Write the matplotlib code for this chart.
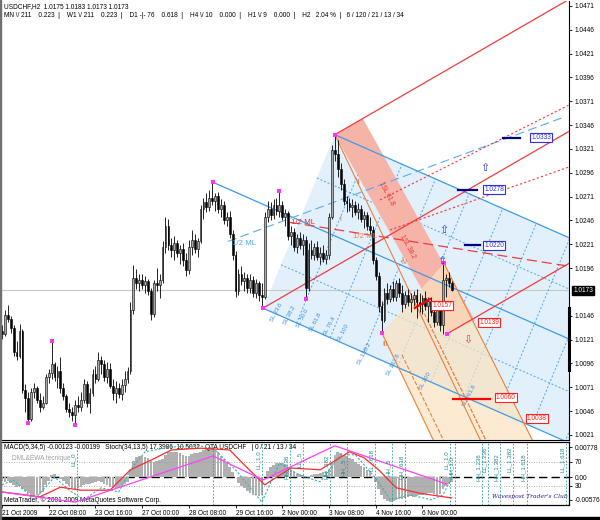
import numpy as np
import matplotlib.pyplot as plt
from matplotlib.patches import Polygon, Rectangle

plt.rcParams['font.family'] = ['Liberation Sans', 'DejaVu Sans']

# ---- USDCHF H2 candles, bar 0 = 21 Oct 2009 00:00 ----
opens = [1.0130, 1.0127, 1.0147, 1.0143, 1.0133, 1.0108, 1.0104, 1.0130, 1.0068, 1.0060,
         1.0038, 1.0066, 1.0070, 1.0058, 1.0050, 1.0055, 1.0082, 1.0086, 1.0095, 1.0082,
         1.0088, 1.0070, 1.0062, 1.0048, 1.0045, 1.0042, 1.0052, 1.0050, 1.0058, 1.0074,
         1.0055, 1.0065, 1.0085, 1.0080, 1.0100, 1.0095, 1.0082, 1.0090, 1.0072, 1.0065,
         1.0070, 1.0064, 1.0073, 1.0080, 1.0088, 1.0152, 1.0186, 1.0180, 1.0184, 1.0178,
         1.0182, 1.0172, 1.0148, 1.0180, 1.0178, 1.0184, 1.0218, 1.0240, 1.0220, 1.0215,
         1.0222, 1.0212, 1.0216, 1.0204, 1.0194, 1.0218, 1.0226, 1.0216, 1.0224, 1.0258,
         1.0265, 1.0260, 1.0270, 1.0266, 1.0272, 1.0258, 1.0262, 1.0246, 1.0250, 1.0232,
         1.0210, 1.0172, 1.0190, 1.0182, 1.0186, 1.0175, 1.0184, 1.0170, 1.0180, 1.0168,
         1.0166, 1.0250, 1.0258, 1.0252, 1.0262, 1.0256, 1.0262, 1.0250, 1.0254, 1.0230,
         1.0234, 1.0218, 1.0228, 1.0220, 1.0226, 1.0175, 1.0215, 1.0210, 1.0218, 1.0208,
         1.0212, 1.0206, 1.0210, 1.0250, 1.0320, 1.0316, 1.0300, 1.0284, 1.0266, 1.0264,
         1.0260, 1.0262, 1.0255, 1.0258, 1.0248, 1.0252, 1.0240, 1.0236, 1.0204, 1.0188,
         1.0156, 1.0142, 1.0170, 1.0164, 1.0174, 1.0166, 1.0180, 1.0170, 1.0158, 1.0168,
         1.0160, 1.0164, 1.0168, 1.0160, 1.0158, 1.0165, 1.0156, 1.0162, 1.0150, 1.0140,
         1.0154, 1.0136, 1.0184, 1.0186, 1.0180]
highs = [1.0136, 1.0152, 1.0157, 1.0146, 1.0136, 1.0120, 1.0137, 1.0132, 1.0074, 1.0066,
         1.0070, 1.0075, 1.0072, 1.0065, 1.0062, 1.0085, 1.0090, 1.0120, 1.0098, 1.0093,
         1.0103, 1.0075, 1.0064, 1.0055, 1.0050, 1.0058, 1.0062, 1.0066, 1.0080, 1.0078,
         1.0070, 1.0090, 1.0093, 1.0108, 1.0104, 1.0100, 1.0098, 1.0096, 1.0080, 1.0078,
         1.0075, 1.0080, 1.0088, 1.0092, 1.0160, 1.0199, 1.0195, 1.0190, 1.0190, 1.0188,
         1.0185, 1.0175, 1.0184, 1.0196, 1.0190, 1.0224, 1.0250, 1.0248, 1.0228, 1.0230,
         1.0226, 1.0220, 1.0222, 1.0212, 1.0226, 1.0236, 1.0232, 1.0228, 1.0262, 1.0270,
         1.0275, 1.0278, 1.0286, 1.0275, 1.0276, 1.0268, 1.0266, 1.0255, 1.0256, 1.0236,
         1.0214, 1.0195, 1.0198, 1.0192, 1.0190, 1.0190, 1.0188, 1.0185, 1.0183, 1.0180,
         1.0255, 1.0266, 1.0265, 1.0268, 1.0270, 1.0277, 1.0266, 1.0258, 1.0256, 1.0240,
         1.0238, 1.0232, 1.0234, 1.0232, 1.0230, 1.0222, 1.0226, 1.0222, 1.0224, 1.0218,
         1.0220, 1.0215, 1.0254, 1.0325, 1.0336, 1.0330, 1.0306, 1.0290, 1.0272, 1.0270,
         1.0268, 1.0266, 1.0264, 1.0262, 1.0256, 1.0255, 1.0250, 1.0240, 1.0208, 1.0192,
         1.0162, 1.0175, 1.0180, 1.0178, 1.0182, 1.0184, 1.0186, 1.0178, 1.0172, 1.0174,
         1.0170, 1.0172, 1.0174, 1.0170, 1.0168, 1.0172, 1.0166, 1.0166, 1.0160, 1.0158,
         1.0158, 1.0201, 1.0190, 1.0192, 1.0183]
lows = [1.0122, 1.0125, 1.0140, 1.0128, 1.0104, 1.0100, 1.0102, 1.0065, 1.0045, 1.0034,
        1.0036, 1.0060, 1.0055, 1.0045, 1.0048, 1.0053, 1.0075, 1.0080, 1.0078, 1.0070,
        1.0065, 1.0058, 1.0045, 1.0040, 1.0036, 1.0031, 1.0045, 1.0046, 1.0055, 1.0050,
        1.0044, 1.0062, 1.0075, 1.0078, 1.0085, 1.0078, 1.0075, 1.0070, 1.0058, 1.0055,
        1.0060, 1.0058, 1.0066, 1.0076, 1.0085, 1.0148, 1.0174, 1.0172, 1.0174, 1.0170,
        1.0168, 1.0142, 1.0145, 1.0172, 1.0165, 1.0180, 1.0212, 1.0215, 1.0208, 1.0205,
        1.0208, 1.0200, 1.0198, 1.0188, 1.0190, 1.0210, 1.0212, 1.0208, 1.0222, 1.0248,
        1.0255, 1.0256, 1.0262, 1.0256, 1.0254, 1.0250, 1.0242, 1.0240, 1.0228, 1.0205,
        1.0166, 1.0168, 1.0178, 1.0172, 1.0170, 1.0170, 1.0166, 1.0165, 1.0162, 1.0154,
        1.0164, 1.0244, 1.0246, 1.0248, 1.0252, 1.0250, 1.0246, 1.0240, 1.0226, 1.0220,
        1.0214, 1.0212, 1.0216, 1.0210, 1.0164, 1.0172, 1.0206, 1.0204, 1.0205, 1.0200,
        1.0202, 1.0200, 1.0206, 1.0248, 1.0308, 1.0292, 1.0278, 1.0262, 1.0255, 1.0256,
        1.0250, 1.0252, 1.0248, 1.0244, 1.0238, 1.0236, 1.0232, 1.0200, 1.0184, 1.0150,
        1.0128, 1.0140, 1.0158, 1.0160, 1.0162, 1.0162, 1.0166, 1.0150, 1.0154, 1.0156,
        1.0150, 1.0156, 1.0144, 1.0150, 1.0148, 1.0152, 1.0140, 1.0146, 1.0134, 1.0136,
        1.0130, 1.0127, 1.0166, 1.0176, 1.0172]
closes = [1.0127, 1.0147, 1.0143, 1.0133, 1.0108, 1.0104, 1.0130, 1.0068, 1.0060, 1.0038,
          1.0066, 1.0070, 1.0058, 1.0050, 1.0055, 1.0082, 1.0086, 1.0095, 1.0082, 1.0088,
          1.0070, 1.0062, 1.0048, 1.0045, 1.0042, 1.0052, 1.0050, 1.0058, 1.0074, 1.0055,
          1.0065, 1.0085, 1.0080, 1.0100, 1.0095, 1.0082, 1.0090, 1.0072, 1.0065, 1.0070,
          1.0064, 1.0073, 1.0080, 1.0088, 1.0152, 1.0186, 1.0180, 1.0184, 1.0178, 1.0182,
          1.0172, 1.0148, 1.0180, 1.0178, 1.0184, 1.0218, 1.0240, 1.0220, 1.0215, 1.0222,
          1.0212, 1.0216, 1.0204, 1.0194, 1.0218, 1.0226, 1.0216, 1.0224, 1.0258, 1.0265,
          1.0260, 1.0270, 1.0266, 1.0272, 1.0258, 1.0262, 1.0246, 1.0250, 1.0232, 1.0210,
          1.0172, 1.0190, 1.0182, 1.0186, 1.0175, 1.0184, 1.0170, 1.0180, 1.0168, 1.0166,
          1.0250, 1.0258, 1.0252, 1.0262, 1.0256, 1.0262, 1.0250, 1.0254, 1.0230, 1.0234,
          1.0218, 1.0228, 1.0220, 1.0226, 1.0175, 1.0215, 1.0210, 1.0218, 1.0208, 1.0212,
          1.0206, 1.0210, 1.0250, 1.0320, 1.0316, 1.0300, 1.0284, 1.0266, 1.0264, 1.0260,
          1.0262, 1.0255, 1.0258, 1.0248, 1.0252, 1.0240, 1.0236, 1.0204, 1.0188, 1.0156,
          1.0142, 1.0170, 1.0164, 1.0174, 1.0166, 1.0180, 1.0170, 1.0158, 1.0168, 1.0160,
          1.0164, 1.0168, 1.0160, 1.0158, 1.0165, 1.0156, 1.0162, 1.0150, 1.0140, 1.0154,
          1.0136, 1.0184, 1.0186, 1.0180, 1.0173]

# MACD(5,34,5) histogram
macd = [-0.0008, -0.0012, -0.0010, -0.0014, -0.0020, -0.0024, -0.0022, -0.0030, -0.0034,
        -0.0040, -0.0046, -0.0048, -0.0044, -0.0042, -0.0036,
        -0.0020, -0.0008, 0.0006, 0.0010, 0.0004, -0.0004,
        -0.0010, -0.0016, -0.0022, -0.0026, -0.0030, -0.0028, -0.0024, -0.0020, -0.0018, -0.0016,
        -0.0014, -0.0012, -0.0010, -0.0012, -0.0016, -0.0020, -0.0024, -0.0026, -0.0028, -0.0026,
        -0.0022, -0.0018, -0.0012,
        0.0020, 0.0042, 0.0052, 0.0055, 0.0054, 0.0052, 0.0050,
        0.0042, 0.0040, 0.0042, 0.0044, 0.0048,
        0.0058, 0.0064, 0.0066, 0.0066, 0.0064, 0.0062, 0.0058, 0.0054, 0.0056, 0.0060, 0.0062,
        0.0062, 0.0066, 0.0070, 0.0074,
        0.0078, 0.0076, 0.0070, 0.0064, 0.0056, 0.0048,
        0.0036, 0.0026, 0.0014, 0.0000,
        -0.0014, -0.0022, -0.0028, -0.0034, -0.0040, -0.0044, -0.0046, -0.0048, -0.0046,
        0.0000, 0.0016, 0.0026, 0.0032, 0.0036, 0.0038, 0.0036, 0.0032,
        0.0026, 0.0020, 0.0014, 0.0010, 0.0008, 0.0006, 0.0004, 0.0002, 0.0006, 0.0008, 0.0010,
        0.0012, 0.0014, 0.0016, 0.0020,
        0.0040, 0.0058, 0.0064, 0.0062, 0.0058, 0.0054, 0.0050, 0.0046,
        0.0040, 0.0034, 0.0030, 0.0026, 0.0020, 0.0016,
        0.0004, -0.0012, -0.0030, -0.0046,
        -0.0056, -0.0060, -0.0062, -0.0060, -0.0058, -0.0056, -0.0054, -0.0052, -0.0050, -0.0048,
        -0.0050, -0.0048,
        -0.0046, -0.0044, -0.0042, -0.0040, -0.0040, -0.0042, -0.0044, -0.0042, -0.0030, -0.0022,
        -0.0016, -0.0012]

# Stoch(34,13,5): signal (red) and main (cyan dotted), read at pivots
stoch_sig_x = [0, 13, 20, 27, 37, 44, 51, 58, 68, 78, 83, 90, 99, 109, 119, 124, 129, 135, 143, 154]
stoch_sig_y = [20, 12, 28, 23, 23, 57, 73, 90, 93, 90, 65, 32, 60, 57, 87, 77, 57, 27, 18, 10]
stoch_main_x = [0, 4, 11, 18, 23, 28, 34, 40, 44, 49, 58, 68, 73, 80, 87, 89, 95, 102, 109,
                116, 121, 128, 133, 140, 147, 151, 154]
stoch_main_y = [32, 40, 7, 45, 23, 7, 27, 20, 57, 87, 95, 97, 90, 57, 15, 3, 68, 48, 37,
                82, 82, 43, 7, 15, 7, 15, 43]
zigzag_x = [0, 25, 72.3, 89.4, 114.0, 152.4]
zigzag_y = [20, 3, 80, 40, 97, 33]

# pivots (bar, price)
piv_hi = [(17.1, 1.0120), (72.3, 1.0286), (94.9, 1.0277), (114.0, 1.0336), (151.4, 1.0201)]
piv_lo = [(8.9, 1.0034), (25.0, 1.0031), (89.4, 1.0154), (104.1, 1.0164), (130.1, 1.0128),
          (152.4, 1.0127)]

# blue fork: tines start points + common slope (price per bar)
blue_tines = [(114.0, 1.0336), (72.3, 1.0286), (89.4, 1.0154)]
blue_slope = -0.0001348
blue_sl_labels = [('SL 23.6', 94.0, 1.0150), ('SL 38.2', 98.5, 1.0147), ('SL 50.0', 103.0, 1.0143),
                  ('SL 61.8', 107.5, 1.0139), ('SL 76.4', 112.0, 1.0135), ('SL 100', 117.0, 1.0128),
                  ('SL 138.2', 124.0, 1.0106), ('SL 161.8', 134.0, 1.0095), ('SL 200', 145.0, 1.0078),
                  ('SL 261.8', 160.0, 1.0062)]
# red fork pivots
red_p1, red_p2, red_p3 = (89.4, 1.0154), (114.0, 1.0336), (152.4, 1.0127)
red_dotted = [((129.5, 1.02675), (194.2, 1.03671)), ((132.9, 1.02360), (194.2, 1.03021))]
red_half_ml = ((98.6, 1.0244), (194.2, 1.0198))
# orange fork lines: start, slope (price per bar), style
orange_lines = [((130.1, 1.0128), -0.000637, '-'), ((114.0, 1.0336), -0.000643, '-'),
                ((151.4, 1.0201), -0.000613, '-'), ((137.0, 1.0105), -0.000630, '--'),
                ((142.0, 1.0165), -0.000630, '--'), ((146.0, 1.0140), -0.000630, ':')]
orange_labels = [('I', 115.8, 1.02465), ('II', 121.9, 1.02853), ('IV', 138.0, 1.02014),
                 ('III', 131.2, 1.01154)]

price_labels = [(1.0333, 181.2, 'b'), (1.0278, 165.1, 'b'), (1.0220, 165.1, 'b'),
                (1.0157, 147.3, 'r'), (1.0139, 163.4, 'r'), (1.0060, 169.2, 'r'),
                (1.0038, 179.8, 'r')]
marker_lines = [(1.0333, 171.6, 177.4, '#00008b'), (1.0278, 156.2, 162.7, '#00008b'),
                (1.0220, 158.6, 163.7, '#00008b'), (1.0059, 154.5, 167.1, 'red')]

date_ticks = list(range(0, 145, 16))
date_labels = ['21 Oct 2009', '22 Oct 08:00', '23 Oct 16:00', '27 Oct 00:00', '28 Oct 08:00',
               '29 Oct 16:00', '2 Nov 00:00', '3 Nov 08:00', '4 Nov 16:00', '6 Nov 00:00']
price_ticks = [1.0471, 1.0446, 1.0421, 1.0396, 1.0371, 1.0346, 1.0321, 1.0296, 1.0271,
               1.0246, 1.0221, 1.0196, 1.0146, 1.0121, 1.0096, 1.0071, 1.0046, 1.0021]

# wave-target verticals in the indicator window (bar, label)
vlines_x = [25.7, 72.3, 89.0, 98.6, 103.1, 112.3, 118.2, 127.7, 133.6, 138.0, 153.4, 155.1,
            164.4, 166.4, 170.5, 175.0, 179.8, 193.2]
vlines_lab = ['LL_0', '', 'LL_1.0', 'HH_.236', 'LL_.5', 'HH_.382', 'HH_.5', 'LL_.618',
              'HH_.5', 'HH_.618', 'LL_1.0', 'HH_1.0', 'HH_1.236', 'LL_1.236', 'HH_1.382',
              'LL_1.382', 'HH_1.618', 'LL_1.618']

XL, XR = -0.34, 194.2
YB, YT = 1.00157, 1.04762
FS = 4.7

fig = plt.figure(figsize=(6.0, 5.2), dpi=100)
ax = fig.add_axes([1 / 600, 80 / 520, 568 / 600, 439 / 520])
ax2 = fig.add_axes([1 / 600, 15 / 520, 568 / 600, 63 / 520])
ax.set_xlim(XL, XR)
ax.set_ylim(YB, YT)
ax2.set_xlim(XL, XR)
ax2.set_ylim(-0.00704, 0.00906)


def ray(p, slope, x1=XR + 5):
    return [p[0], x1], [p[1], p[1] + slope * (x1 - p[0])]


# ---- blue fork region ----
bE, bA, bB = blue_tines
xe, ye = ray(bE, blue_slope)
xb, yb = ray(bB, blue_slope)
blue_poly = Polygon([bB, bE, (xe[1], ye[1]), (xb[1], yb[1])], closed=True,
                    facecolor='#e2f0fb', edgecolor='none', zorder=1)
ax.add_patch(blue_poly)
edge_slope = (bE[1] - bB[1]) / (bE[0] - bB[0])
for k in range(1, 11):
    x0 = bB[0] + 11.5 * k
    y0 = bB[1] + blue_slope * (x0 - bB[0])
    ln, = ax.plot([x0 - 40, x0 + 40], [y0 - 40 * edge_slope, y0 + 40 * edge_slope],
                  color='#4da3ea', lw=0.7, ls=(0, (2, 2)), zorder=2)
    ln.set_clip_path(blue_poly)
for f in [0.25, 0.75]:
    p = (bB[0] + f * (bE[0] - bB[0]), bB[1] + f * (bE[1] - bB[1]))
    xs, ys = ray(p, blue_slope)
    ax.plot(xs, ys, color='#4da3ea', lw=0.7, ls=(0, (2, 2)), zorder=2)
for t in blue_tines:
    xs, ys = ray(t, blue_slope)
    ax.plot(xs, ys, color='#3d9be9', lw=0.9, zorder=3)
ax.plot([77.4, 193.0], [1.0224, 1.0355], color='#5aaaf0', lw=0.8, ls=(0, (8, 4)), zorder=3)
for lab, lx, ly in blue_sl_labels:
    ax.text(lx, ly, lab, color='#3d8fe0', fontsize=FS - 0.4, rotation=62,
            ha='center', va='center', zorder=3)

# ---- salmon band + orange fork ----
ax.add_patch(Polygon([(114.0, 1.0336), (123.6, 1.0353), (162.0, 1.0141), (152.4, 1.0127)],
                     closed=True, facecolor='#f6b3a8', edgecolor='none', zorder=2))
ax.add_patch(Polygon([(130.1, 1.0128), (151.4, 1.0201), (181.8, 1.0016), (147.6, 1.0016)],
                     closed=True, facecolor='#fbe3c0', edgecolor='none', alpha=0.7, zorder=2))
for p, s, st in orange_lines:
    xs, ys = ray(p, s, x1=p[0] + 60)
    ax.plot(xs, ys, color='#e8823c', lw=0.8, ls=st, zorder=3)
for lab, lx, ly in orange_labels:
    ax.text(lx, ly, lab, color='#e07020', fontsize=FS, ha='center', va='center', zorder=8)

# ---- red fork ----
mid = ((red_p2[0] + red_p3[0]) / 2, (red_p2[1] + red_p3[1]) / 2)
red_slope = (mid[1] - red_p1[1]) / (mid[0] - red_p1[0])
for p in [red_p1, red_p2, red_p3]:
    xs, ys = ray(p, red_slope)
    ax.plot(xs, ys, color='#f03c3c', lw=0.9, zorder=4)
for a, b in red_dotted:
    ax.plot([a[0], b[0]], [a[1], b[1]], color='#f03c3c', lw=0.8, ls=(0, (2, 2)), zorder=4)
ax.plot([red_half_ml[0][0], red_half_ml[1][0]], [red_half_ml[0][1], red_half_ml[1][1]],
        color='#f03c3c', lw=0.9, ls=(0, (8, 4)), zorder=4)
ax.text(131.5, 1.0274, '1SL 61.8', color='#e83030', fontsize=FS, rotation=-62,
        ha='center', va='center', zorder=8)
ax.text(139.0, 1.0218, '1SL 38.2', color='#e83030', fontsize=FS, rotation=-62,
        ha='center', va='center', zorder=8)

# ---- candles ----
idx = np.arange(len(closes))
o, h, l, c = map(np.array, (opens, highs, lows, closes))
up = c >= o
ax.vlines(idx, l, h, color='black', lw=0.6, zorder=5)
ax.bar(idx[up], (c - o)[up], bottom=o[up], width=0.62, color='#a9a9a9',
       edgecolor='black', lw=0.4, zorder=6)
ax.bar(idx[~up], (o - c)[~up], bottom=c[~up], width=0.62, color='black',
       edgecolor='black', lw=0.4, zorder=6)
ax.axhline(closes[-1], color='#c8c8c8', lw=0.8, zorder=1)
for px, py in piv_hi + piv_lo:
    ax.plot(px, py, 's', ms=2.2, color='#ff33ff', mew=0, zorder=7)

# ---- text labels on chart ----
ax.text(78.8, 1.0220, '1/2 ML', color='#4da3ea', fontsize=FS + 1, zorder=8)
ax.text(99.0, 1.0244, '1/2 ML', color='#e83030', fontsize=FS + 1, va='center', zorder=8)
ax.text(120.2, 1.0229, '1/2 ML', color='#e8823c', fontsize=FS + 1, va='center', zorder=8)
for price, x0, col in price_labels:
    ec = '#3030e0' if col == 'b' else '#ff2020'
    ax.text(x0, price, '%.4f' % price, color=ec, fontsize=FS, va='center', zorder=9,
            bbox=dict(boxstyle='square,pad=0.15', fc='white', ec=ec, lw=0.8))
for price, x0, x1, col in marker_lines:
    ax.plot([x0, x1], [price, price], color=col, lw=1.6, zorder=8)
ax.plot([141.4, 146.6], [1.01542, 1.01636], color='red', lw=1.6, zorder=8)
for bx, by in [(165.4, 1.0301), (151.4, 1.0236), (150.7, 1.0203)]:
    ax.text(bx, by, '\u21e7', color='#3030e0', fontsize=8, ha='center', va='center',
            family='DejaVu Sans', zorder=9)
ax.text(159.6, 1.0121, '\u21e9', color='#ff3030', fontsize=8, ha='center', va='center',
        family='DejaVu Sans', zorder=9)

ax.text(0.006, 0.996, 'USDCHF,H2  1.0175 1.0183 1.0173 1.0173', transform=ax.transAxes,
        fontsize=FS, va='top', zorder=10)
ax.text(0.006, 0.974, 'MN \\/ 211    0.223  |    W1 \\/ 211    0.223  |    D1 -|- 76    0.618  |    '
        'H4 \\/ 10    0.000  |    H1 \\/ 9    0.000  |    H2   2.04 %  |   6 / 120 / 21 / 13 / 34',
        transform=ax.transAxes, fontsize=FS, va='top', zorder=10)

# price axis
ax.yaxis.tick_right()
ax.set_yticks(price_ticks)
ax.set_yticklabels(['%.4f' % v for v in price_ticks], fontsize=FS)
ax.tick_params(axis='y', length=2, width=0.6, pad=2)
ax.set_xticks([])
ax.text(1.0075, closes[-1], '%.4f' % closes[-1], transform=ax.get_yaxis_transform(),
        color='white', fontsize=FS, va='center', zorder=10, clip_on=False,
        bbox=dict(boxstyle='square,pad=0.15', fc='black', ec='black'))
ax.plot([XR, XR], [1.0154, 1.0089], color='black', lw=2.2, clip_on=False, zorder=10)
for sp in ['top', 'left']:
    ax.spines[sp].set_visible(False)

# ---- indicator panel ----
ax2.bar(idx, macd, width=0.9, color='#b0b0b0', zorder=2)
ax2.axhline(0, color='black', lw=1.0, ls=(0, (6, 3)), zorder=1)
st = ax2.twinx()
st.set_xlim(XL, XR)
st.set_ylim(-1.7, 103.3)
for lev in [70, 30]:
    st.axhline(lev, color='#9a9a9a', lw=0.6, ls=(0, (1, 2)), zorder=1)
st.plot(stoch_main_x, stoch_main_y, color='#40b0b0', lw=0.8, ls=(0, (2, 1.5)), zorder=4)
st.plot(stoch_sig_x, stoch_sig_y, color='#ff2a2a', lw=0.9, zorder=5)
st.plot(zigzag_x, zigzag_y, color='#ff40ff', lw=0.9, zorder=5)
for vx, lab in zip(vlines_x, vlines_lab):
    st.axvline(vx, color='#2a9a9a', lw=0.6, ls=(0, (2, 2)), zorder=3)
    if lab:
        st.text(vx - 0.3, 62 if lab.startswith('HH') else 74, lab, rotation=90,
                color='#1f8a8a', fontsize=FS - 0.3, ha='right', va='center', zorder=6)
st.set_yticks([70, 30])
st.set_yticklabels(['70', '30'], fontsize=FS)
st.tick_params(axis='y', length=2, width=0.6, pad=2)
ax2.yaxis.tick_right()
ax2.set_yticks([0.00778, 0.0, -0.00576])
ax2.set_yticklabels(['0.00778', '0.00', '-0.00576'], fontsize=FS)
ax2.tick_params(axis='y', length=2, width=0.6, pad=2)
ax2.set_xticks(date_ticks)
ax2.set_xticklabels(date_labels, fontsize=FS, ha='left')
ax2.tick_params(axis='x', length=2, width=0.6, pad=1.5)
for a in [ax2, st]:
    a.spines['left'].set_visible(False)
ax2.text(0.006, 0.97, 'MACD(5,34,5) -0.00123 -0.00199   Stoch(34,13,5) 17.3986  10.5032   '
         'QTA USDCHF   | 0 / 21 / 13 / 34', transform=ax2.transAxes, fontsize=FS, va='top',
         zorder=10)
ax2.text(0.02, 0.80, 'DML&EWA tecnique', transform=ax2.transAxes, fontsize=FS,
         color='#a0a0a0', va='top', zorder=10)
ax2.text(0.006, 0.02, 'MetaTrader, \u00a9 2001-2009 MetaQuotes Software Corp.',
         transform=ax2.transAxes, fontsize=FS, va='bottom', zorder=10)
ax2.text(0.865, 0.10, "Wavespost Trader's Club", transform=ax2.transAxes, fontsize=4.3,
         color='#2b1b8a', style='italic', family='DejaVu Serif', va='bottom', zorder=10)

fig.patches.append(Rectangle((0, 0), 1, 3 / 520, transform=fig.transFigure,
                             color='black'))
fig.patches.append(Rectangle((0, 0), 1 / 600, 1, transform=fig.transFigure,
                             color='#707070'))
fig.savefig('out.png', dpi=100)
